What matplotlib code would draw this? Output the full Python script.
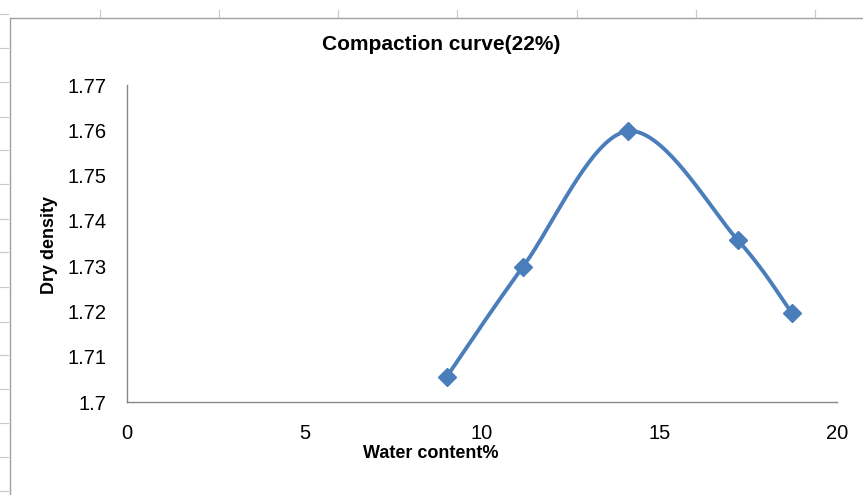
import numpy as np
import matplotlib.pyplot as plt
from matplotlib.lines import Line2D

# data
water = [9.0, 11.15, 14.1, 17.2, 18.73]
density = [1.7055, 1.7298, 1.7598, 1.7358, 1.7196]
xticks = [0, 5, 10, 15, 20]
yticks = [1.70, 1.71, 1.72, 1.73, 1.74, 1.75, 1.76, 1.77]
ylabels = ['1.7', '1.71', '1.72', '1.73', '1.74', '1.75', '1.76', '1.77']


def smooth(xs, ys, n=40):
    # Excel-like smoothed line: bezier segments through the points
    p = np.column_stack([xs, ys])
    out = []
    for i in range(len(p) - 1):
        p0 = p[i - 1] if i > 0 else p[i]
        p3 = p[i + 2] if i + 2 < len(p) else p[i + 1]
        c1 = p[i] + (p[i + 1] - p0) / 6
        c2 = p[i + 1] - (p3 - p[i]) / 6
        t = np.linspace(0, 1, n)[:, None]
        seg = ((1 - t) ** 3) * p[i] + 3 * ((1 - t) ** 2) * t * c1 + 3 * (1 - t) * t ** 2 * c2 + t ** 3 * p[i + 1]
        out.append(seg)
    out = np.vstack(out)
    return out[:, 0], out[:, 1]


plt.rcParams['font.family'] = ['Liberation Sans', 'DejaVu Sans']

fig = plt.figure(figsize=(8.63, 4.95), dpi=100)
ax = fig.add_axes([127 / 863, 1 - 402 / 495, 710 / 863, 317 / 495])

blue = '#4a7ebb'
sx, sy = smooth(water, density)
ax.plot(sx, sy, color=blue, lw=2.8, solid_capstyle='round')
ax.plot(water, density, ls='none', marker='D', ms=9, color=blue, mec=blue)

ax.set_xlim(0, 20)
ax.set_ylim(1.70, 1.77)
ax.set_xticks(xticks)
ax.set_yticks(yticks)
ax.set_yticklabels(ylabels)
ax.tick_params(length=0, labelsize=14.5, colors='black')
ax.tick_params(axis='y', pad=15)
ax.tick_params(axis='x', pad=16)
for s in ['top', 'right']:
    ax.spines[s].set_visible(False)
for s in ['left', 'bottom']:
    ax.spines[s].set_color('#868686')
    ax.spines[s].set_linewidth(1.0)

fig.text(441 / 863, 1 - 45 / 495, 'Compaction curve(22%)', ha='center', va='center',
         fontsize=15, fontweight='bold')
fig.text(431 / 863, 1 - 453 / 495, 'Water content%', ha='center', va='center',
         fontsize=13, fontweight='bold')
fig.text(50 / 863, 1 - 245 / 495, 'Dry density', ha='center', va='center',
         fontsize=13, fontweight='bold', rotation=90)

# chart border and spreadsheet cell marks
grey = '#c8c8c8'
fig.add_artist(Line2D([10 / 863, 10 / 863], [0, 1 - 18 / 495], color='#a0a0a0', lw=1, transform=fig.transFigure))
fig.add_artist(Line2D([10 / 863, 1], [1 - 18 / 495, 1 - 18 / 495], color='#a0a0a0', lw=1, transform=fig.transFigure))
for yy in [14, 48, 82, 117, 150, 184, 219, 252, 287, 322, 355, 389, 423, 457, 491]:
    fig.add_artist(Line2D([0, 8 / 863], [1 - yy / 495] * 2, color=grey, lw=0.8, transform=fig.transFigure))
for xx in [100, 219, 338, 457, 577, 696, 815]:
    fig.add_artist(Line2D([xx / 863] * 2, [1 - 10 / 495, 1 - 17 / 495], color=grey, lw=0.8, transform=fig.transFigure))

fig.savefig('out.png', dpi=100)
